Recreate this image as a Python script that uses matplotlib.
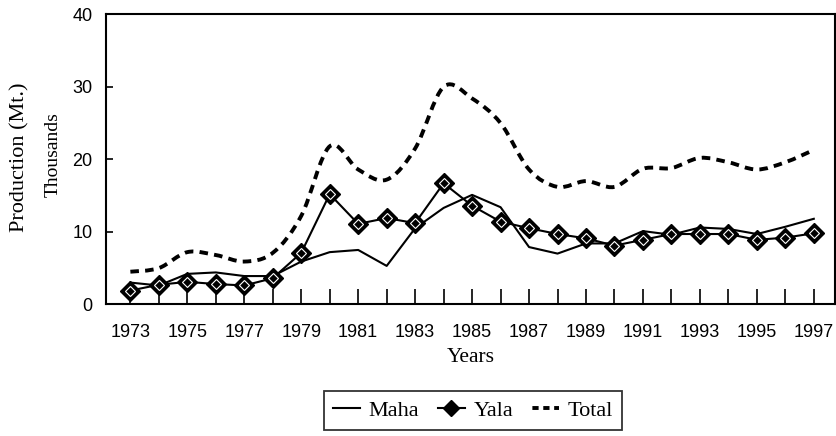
import matplotlib
matplotlib.use("Agg")
import matplotlib.pyplot as plt
import numpy as np
from matplotlib.path import Path
from matplotlib.patches import PathPatch
from matplotlib.lines import Line2D

years = list(range(1973, 1998))
maha = [3.0, 2.6, 4.2, 4.4, 3.9, 3.9, 5.9, 7.2, 7.5, 5.3, 10.5, 13.3, 15.1, 13.4,
        7.9, 7.0, 8.4, 8.4, 10.1, 9.6, 10.6, 10.4, 9.7, 10.7, 11.8]
yala = [1.9, 2.7, 3.1, 2.8, 2.6, 3.6, 7.1, 15.2, 11.1, 11.9, 11.2, 16.7, 13.6, 11.4,
        10.5, 9.7, 9.1, 8.1, 8.9, 9.7, 9.7, 9.7, 8.9, 9.2, 9.8]
total = [4.5, 5.0, 7.2, 6.8, 5.9, 7.1, 12.2, 21.8, 18.6, 17.2, 21.5, 30.0, 28.4, 25.0,
         18.6, 16.2, 17.0, 16.2, 18.7, 18.8, 20.2, 19.6, 18.6, 19.6, 21.3]
x_ticks = list(range(1973, 1998, 2))
y_ticks = [0, 10, 20, 30, 40]

SERIF = "Liberation Serif"
SANS = "Liberation Sans"


def smooth_path(xs, ys):
    # spreadsheet-style smoothed line: cubic bezier through every point
    xs = np.asarray(xs, float)
    ys = np.asarray(ys, float)
    n = len(xs)
    verts = [(xs[0], ys[0])]
    codes = [Path.MOVETO]
    for i in range(n - 1):
        i0, i3 = max(i - 1, 0), min(i + 2, n - 1)
        c1 = (xs[i] + (xs[i + 1] - xs[i0]) / 6, ys[i] + (ys[i + 1] - ys[i0]) / 6)
        c2 = (xs[i + 1] - (xs[i3] - xs[i]) / 6, ys[i + 1] - (ys[i3] - ys[i]) / 6)
        verts += [c1, c2, (xs[i + 1], ys[i + 1])]
        codes += [Path.CURVE4] * 3
    return Path(verts, codes)


fig = plt.figure(figsize=(8.36, 4.36), dpi=100)
ax = fig.add_axes([0.127, 0.302, 0.872, 0.665])

ax.plot(years, maha, color="black", lw=1.5)
ax.plot(years, yala, color="black", lw=1.5, marker="D", markersize=10,
        markerfacecolor="black", markeredgecolor="black")
ax.plot(years, yala, ls="none", marker="D", markersize=5.5,
        markerfacecolor="black", markeredgecolor="white", markeredgewidth=0.8)
ax.add_patch(PathPatch(smooth_path(years, total), facecolor="none", edgecolor="black",
                       lw=2.8, linestyle=(0, (2.2, 1.6)), capstyle="butt"))

ax.set_xlim(1972.15, 1997.75)
ax.set_ylim(0, 40)
ax.set_xticks(years, minor=True)
ax.set_xticks(x_ticks)
ax.set_yticks(y_ticks)
ax.tick_params(axis="x", which="both", direction="in", length=11, width=1.2, pad=14)
ax.tick_params(axis="y", direction="in", length=5, width=1.2, pad=10)
for lab in ax.get_xticklabels() + ax.get_yticklabels():
    lab.set_fontfamily(SANS)
    lab.set_fontsize(13)
for s in ax.spines.values():
    s.set_linewidth(1.5)

ax.set_xlabel("Years", fontfamily=SERIF, fontsize=15.5, labelpad=5)
fig.text(0.024, 0.64, "Production (Mt.)", rotation=90, ha="center", va="center",
         fontfamily=SERIF, fontsize=16)
fig.text(0.064, 0.645, "Thousands", rotation=90, ha="center", va="center",
         fontfamily=SERIF, fontsize=14)

handles = [
    Line2D([], [], color="black", lw=1.5),
    Line2D([], [], color="black", lw=1.5, marker="D", markersize=8),
    Line2D([], [], color="black", lw=2.8, linestyle=(5.5, (1.6, 1.2))),
]
leg = fig.legend(handles, ["Maha", "Yala", "Total"], loc="center",
                 bbox_to_anchor=(0.566, 0.0585), ncol=3, frameon=True, fancybox=False,
                 handlelength=1.2, handletextpad=0.4, columnspacing=0.85,
                 borderpad=0.4, prop={"family": SERIF, "size": 16})
leg.get_frame().set_edgecolor("black")
leg.get_frame().set_linewidth(1.3)

fig.savefig("out.png", dpi=100)
